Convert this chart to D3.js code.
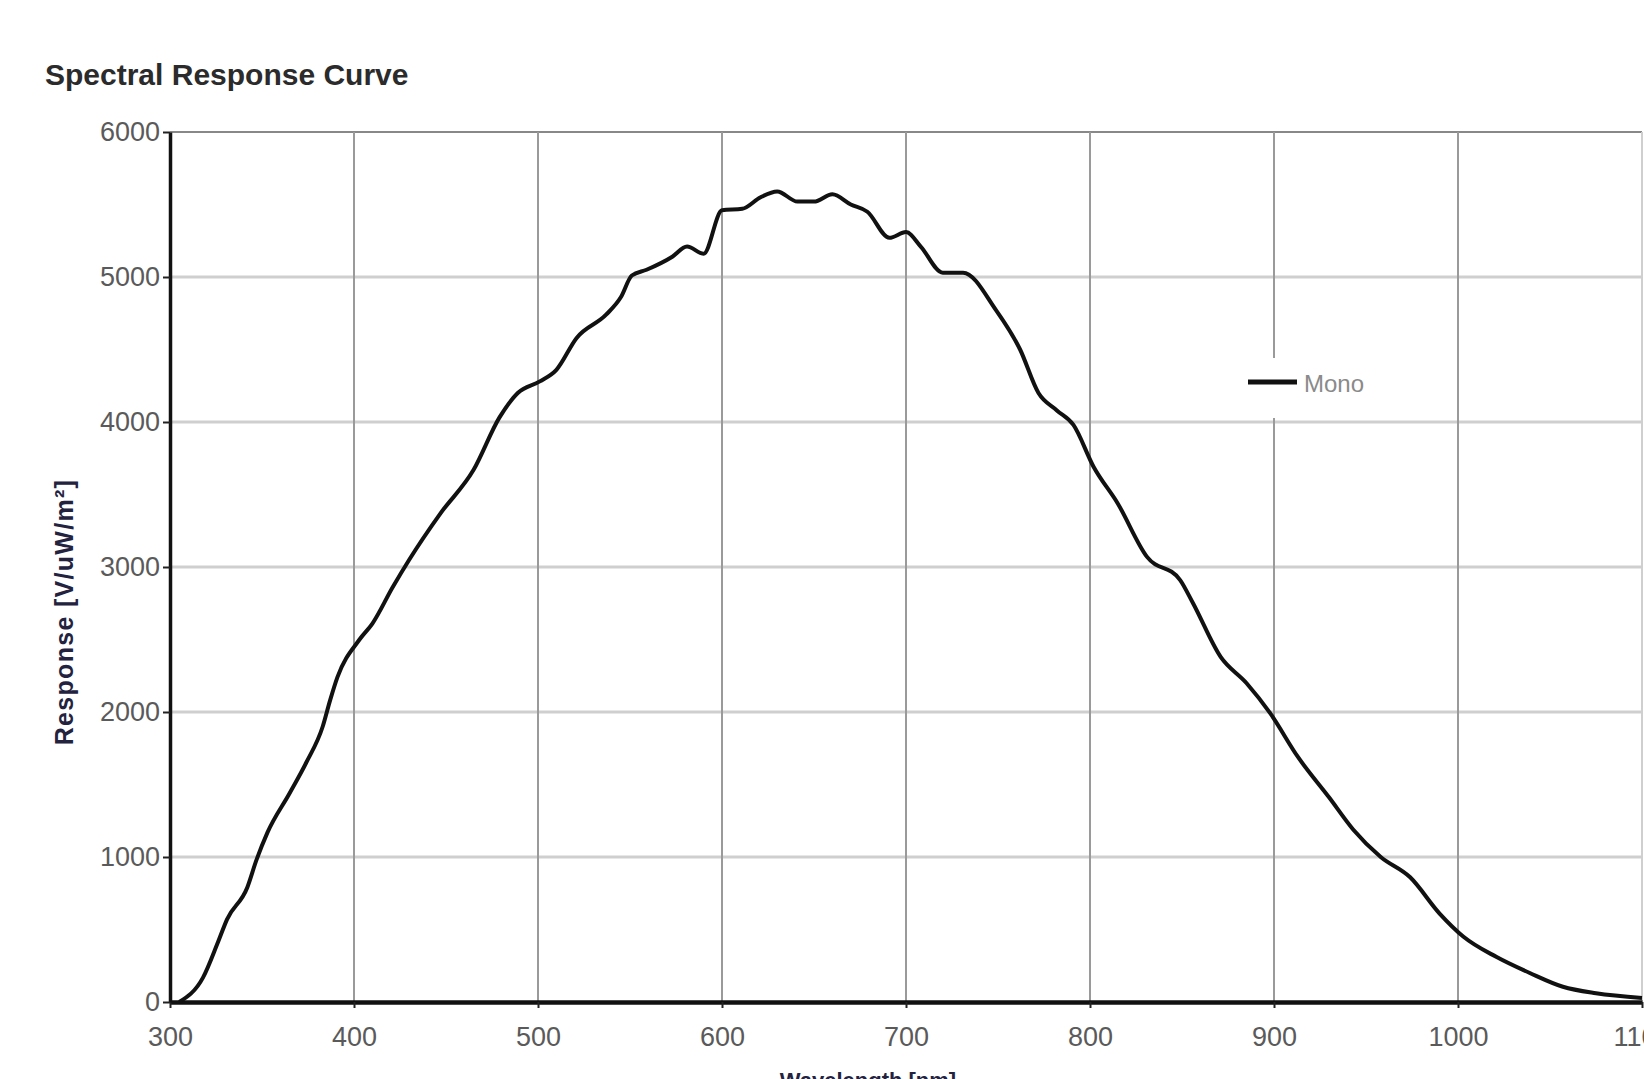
<!DOCTYPE html>
<html>
<head>
<meta charset="utf-8">
<script src="https://cdn.jsdelivr.net/npm/d3@7/dist/d3.min.js"></script>
<style>
body { margin: 0; background: #fff; }
</style>
</head>
<body>
<div id="chart"></div>
<script>
/* values */
const wavelength = [305, 318, 326, 331, 342, 347, 353, 365, 374, 383, 387, 391, 403, 410, 421, 430,
    447, 465, 479, 489, 501, 510, 521, 537, 545, 551, 559, 573, 581, 590, 600, 611, 621, 630,
    641, 650, 660, 670, 679, 691, 700, 708, 720, 731, 749, 762, 772, 782, 791, 802, 815, 831, 849,
    856, 871, 885, 898, 913, 930, 943, 958, 974, 990, 1003, 1021, 1039, 1057, 1075, 1100];
const response = [0, 170, 410, 570, 790, 980, 1170, 1440, 1650, 1900, 2080, 2240, 2500, 2610, 2860, 3050,
    3370, 3670, 4030, 4200, 4280, 4360, 4580, 4740, 4860, 5010, 5050, 5140, 5210, 5160, 5460, 5470, 5550, 5590,
    5520, 5520, 5570, 5500, 5450, 5270, 5310, 5210, 5030, 5030, 4770, 4500, 4200, 4080, 3980, 3690, 3440, 3070, 2910,
    2750, 2380, 2200, 1990, 1690, 1410, 1190, 1000, 860, 610, 450, 310, 200, 105, 60, 28];

const xTicks = [300, 400, 500, 600, 700, 800, 900, 1000, 1100];
const yTicks = [0, 1000, 2000, 3000, 4000, 5000, 6000];
const seriesName = "Mono";

const width = 1644, height = 1079;
const margin = {top: 132, right: 2, bottom: 77, left: 170};
const font = "'Liberation Sans', Arial, sans-serif";

const svg = d3.select("#chart")
    .append("svg")
    .attr("width", width)
    .attr("height", height)
    .style("font-family", font);

const x = d3.scaleLinear()
    .domain([300, 1100])
    .range([margin.left, width - margin.right]);

const y = d3.scaleLinear()
    .domain([0, 6000])
    .range([height - margin.bottom, margin.top]);

// grid
svg.append("g")
    .selectAll("line")
    .data(yTicks.slice(1))
    .join("line")
    .attr("x1", x(300))
    .attr("x2", x(1100))
    .attr("y1", d => y(d))
    .attr("y2", d => y(d))
    .attr("stroke", d => d == 6000 ? "#888" : "#cfcfcf")
    .attr("stroke-width", d => d == 6000 ? 2 : 3);

svg.append("g")
    .selectAll("line")
    .data(xTicks.slice(1))
    .join("line")
    .attr("x1", d => x(d))
    .attr("x2", d => x(d))
    .attr("y1", y(6000))
    .attr("y2", y(0))
    .attr("stroke", d => d == 1100 ? "#cfcfcf" : "#9a9a9a")
    .attr("stroke-width", 2);

// axes
const xAxis = svg.append("g")
    .attr("transform", "translate(0," + y(0) + ")")
    .call(d3.axisBottom(x).tickValues(xTicks).tickFormat(d3.format("d")).tickSize(6).tickSizeOuter(0).tickPadding(19));

const yAxis = svg.append("g")
    .attr("transform", "translate(" + x(300) + ",0)")
    .call(d3.axisLeft(y).tickValues(yTicks).tickFormat(d3.format("d")).tickSize(7).tickSizeOuter(0).tickPadding(3));

xAxis.select(".domain").attr("stroke", "#111").attr("stroke-width", 4.5);
yAxis.select(".domain").attr("stroke", "#111").attr("stroke-width", 3.5);
svg.selectAll(".tick line").attr("stroke", "#222").attr("stroke-width", 2);
svg.selectAll(".tick text")
    .attr("fill", "#5a5a5a")
    .style("font-family", font)
    .style("font-size", "27px");

// legend box sits over the grid
svg.append("rect")
    .attr("x", 1238)
    .attr("y", 358)
    .attr("width", 150)
    .attr("height", 60)
    .attr("fill", "#fff");

svg.append("line")
    .attr("x1", 1248)
    .attr("x2", 1297)
    .attr("y1", 382)
    .attr("y2", 382)
    .attr("stroke", "#111")
    .attr("stroke-width", 5);

svg.append("text")
    .attr("x", 1304)
    .attr("y", 392)
    .attr("fill", "#8a8a8a")
    .style("font-size", "24px")
    .text(seriesName);

// curve
const line = d3.line()
    .x(d => x(d[0]))
    .y(d => y(d[1]))
    .curve(d3.curveMonotoneX);

svg.append("path")
    .datum(d3.zip(wavelength, response))
    .attr("fill", "none")
    .attr("stroke", "#111")
    .attr("stroke-width", 4)
    .attr("stroke-linejoin", "round")
    .attr("d", line);

// titles
svg.append("text")
    .attr("x", 45)
    .attr("y", 85)
    .attr("fill", "#2b2b2b")
    .style("font-size", "30px")
    .style("font-weight", "bold")
    .text("Spectral Response Curve");

svg.append("text")
    .attr("transform", "translate(73,612) rotate(-90)")
    .attr("text-anchor", "middle")
    .attr("fill", "#23233f")
    .style("font-size", "25px")
    .style("font-weight", "bold")
    .style("letter-spacing", "1.3px")
    .text("Response [V/uW/m²]");

svg.append("text")
    .attr("x", 868)
    .attr("y", 1088)
    .attr("text-anchor", "middle")
    .attr("fill", "#23233f")
    .style("font-size", "22px")
    .style("font-weight", "bold")
    .text("Wavelength [nm]");
</script>
</body>
</html>
